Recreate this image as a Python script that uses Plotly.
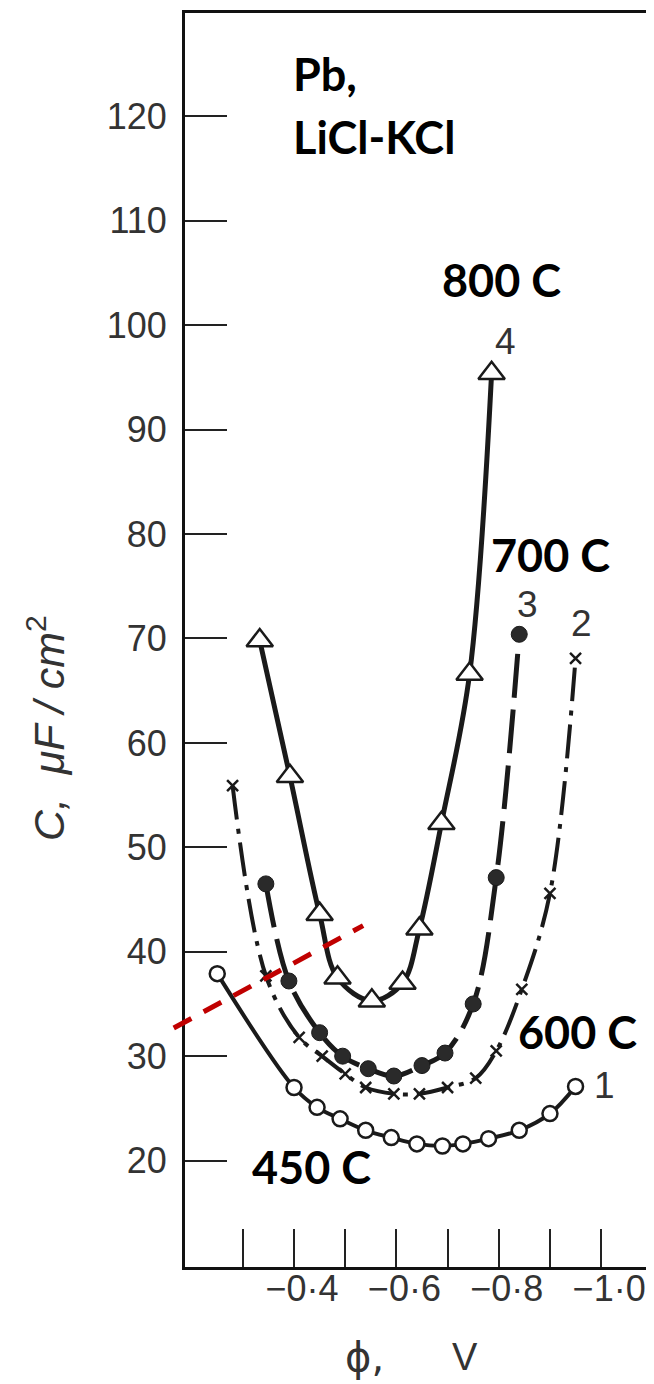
import plotly.graph_objects as go

# ---------------- data ----------------
# potential phi in V (negative), capacitance in uF/cm2
phi_450 = [-0.25, -0.40, -0.445, -0.49, -0.54, -0.59, -0.64, -0.69, -0.73, -0.78, -0.84, -0.90, -0.95]
cap_450 = [37.9, 27.0, 25.1, 24.0, 22.9, 22.2, 21.6, 21.4, 21.6, 22.1, 22.9, 24.5, 27.1]

phi_600 = [-0.28, -0.345, -0.41, -0.455, -0.50, -0.54, -0.595, -0.645, -0.70, -0.755, -0.795, -0.845, -0.90, -0.95]
cap_600 = [55.9, 37.7, 31.8, 30.0, 28.3, 27.0, 26.4, 26.4, 27.0, 27.9, 30.5, 36.4, 45.6, 68.1]

phi_700 = [-0.345, -0.39, -0.45, -0.495, -0.545, -0.595, -0.65, -0.695, -0.75, -0.795, -0.84]
cap_700 = [46.5, 37.2, 32.25, 30.0, 28.8, 28.1, 29.1, 30.3, 35.0, 47.1, 70.4]

phi_800 = [-0.333, -0.392, -0.45, -0.485, -0.552, -0.612, -0.645, -0.688, -0.743, -0.786]
cap_800 = [69.8, 56.8, 43.6, 37.5, 35.3, 37.0, 42.2, 52.3, 66.6, 95.4]

x_tickvals = [-0.3, -0.4, -0.5, -0.6, -0.7, -0.8, -0.9, -1.0]
x_ticktext = ["", "\u22120\u00b74", "", "\u22120\u00b76", "", "\u22120\u00b78", "", "\u22121\u00b70"]
y_tickvals = [20, 30, 40, 50, 60, 70, 80, 90, 100, 110, 120]

x_range = [-0.187, -1.0935]
y_range = [9.81, 129.9]

# red dashed guide line (data units)
guide_x = [-0.165, -0.535]
guide_y = [32.7, 42.5]

INK = "#1a1a1a"
BG = "white"

fig = go.Figure()

# curve 1 : 450 C, open circles, solid
fig.add_trace(go.Scatter(
    x=phi_450, y=cap_450, mode="lines+markers",
    line=dict(color=INK, width=4, shape="spline"),
    marker=dict(symbol="circle", size=15, color="white", line=dict(color=INK, width=2.5)),
))
# curve 2 : 600 C, crosses, dash-dot
fig.add_trace(go.Scatter(
    x=phi_600, y=cap_600, mode="lines+markers",
    line=dict(color=INK, width=4, shape="spline", dash="34px,9px,5px,9px"),
    marker=dict(symbol="x-thin", size=11, color=INK, line=dict(color=INK, width=2.5)),
))
# curve 3 : 700 C, filled circles, dashed
fig.add_trace(go.Scatter(
    x=phi_700, y=cap_700, mode="lines+markers",
    line=dict(color=INK, width=5, shape="spline", dash="44px,12px"),
    marker=dict(symbol="circle", size=16, color="#2a2a2a", line=dict(color=INK, width=1)),
))
# curve 4 : 800 C, open triangles, solid
fig.add_trace(go.Scatter(
    x=phi_800, y=cap_800, mode="lines+markers",
    line=dict(color=INK, width=5, shape="spline"),
    marker=dict(symbol="triangle-up", size=23, color="white", line=dict(color=INK, width=2.5)),
))

# red dashed line converted to paper coords (so it is not clipped)
def xp(v):
    return (v - x_range[0]) / (x_range[1] - x_range[0])

def yp(v):
    return (v - y_range[0]) / (y_range[1] - y_range[0])

fig.add_shape(type="line", xref="paper", yref="paper",
              x0=xp(guide_x[0]), y0=yp(guide_y[0]), x1=xp(guide_x[1]), y1=yp(guide_y[1]),
              line=dict(color="#c00000", width=5, dash="20px,14px"))

ann = [
    dict(text="<b>Pb,</b>", x=-0.3935, y=124.1),
    dict(text="<b>LiCl-KCl</b>", x=-0.3935, y=118.0),
    dict(text="<b>800 C</b>", x=-0.686, y=104.3),
    dict(text="<b>700 C</b>", x=-0.7816, y=78.0),
    dict(text="<b>600 C</b>", x=-0.834, y=32.3),
    dict(text="<b>450 C</b>", x=-0.3137, y=19.4),
]
for a in ann:
    fig.add_annotation(xref="x", yref="y", showarrow=False, xanchor="left", yanchor="middle",
                       font=dict(family="Lato", size=45, color="black"), **a)

num_font = dict(family="Liberation Sans", size=37, color="#333")
for t, x, y in [("4", -0.813, 98.4), ("3", -0.856, 73.25), ("2", -0.961, 71.4), ("1", -1.006, 27.2)]:
    fig.add_annotation(xref="x", yref="y", x=x, y=y, text=t, showarrow=False,
                       xanchor="center", yanchor="middle", font=num_font)

# axis titles as annotations
fig.add_annotation(xref="paper", yref="paper", x=-0.301, y=0.430, textangle=-90,
                   xanchor="center", yanchor="middle",
                   text="<i>C,  \u03bcF / cm</i><sup>2</sup>", showarrow=False,
                   font=dict(family="Liberation Sans", size=43, color="#333"))
fig.add_annotation(xref="paper", yref="paper", x=0.387, y=-0.072,
                   xanchor="center", yanchor="middle",
                   text="\u03d5,", showarrow=False,
                   font=dict(family="DejaVu Sans", size=40, color="#333"))
fig.add_annotation(xref="paper", yref="paper", x=0.603, y=-0.072,
                   xanchor="center", yanchor="middle",
                   text="V", showarrow=False,
                   font=dict(family="Liberation Sans", size=38, color="#333"))

tickfont = dict(family="Liberation Sans", size=36, color="#333")
fig.update_xaxes(range=x_range, tickvals=x_tickvals, ticktext=x_ticktext,
                 ticks="inside", ticklen=38, tickwidth=2, tickcolor="#222",
                 showline=True, linewidth=3, linecolor="#111", mirror=True,
                 showgrid=False, zeroline=False, tickfont=tickfont, ticklabelstandoff=-12,
                 ticklabelshift=-8)
fig.update_yaxes(range=y_range, tickvals=y_tickvals,
                 ticks="inside", ticklen=42, tickwidth=2, tickcolor="#222",
                 showline=True, linewidth=3, linecolor="#111", mirror=True,
                 showgrid=False, zeroline=False, tickfont=tickfont, ticklabelstandoff=8)

# the page body adds an 8 px margin, so the figure is 8 px smaller and margins compensate
fig.update_layout(width=646, height=1376, margin=dict(l=177, r=4, t=2, b=117),
                  paper_bgcolor=BG, plot_bgcolor=BG, showlegend=False)

fig.write_html("out.html")
